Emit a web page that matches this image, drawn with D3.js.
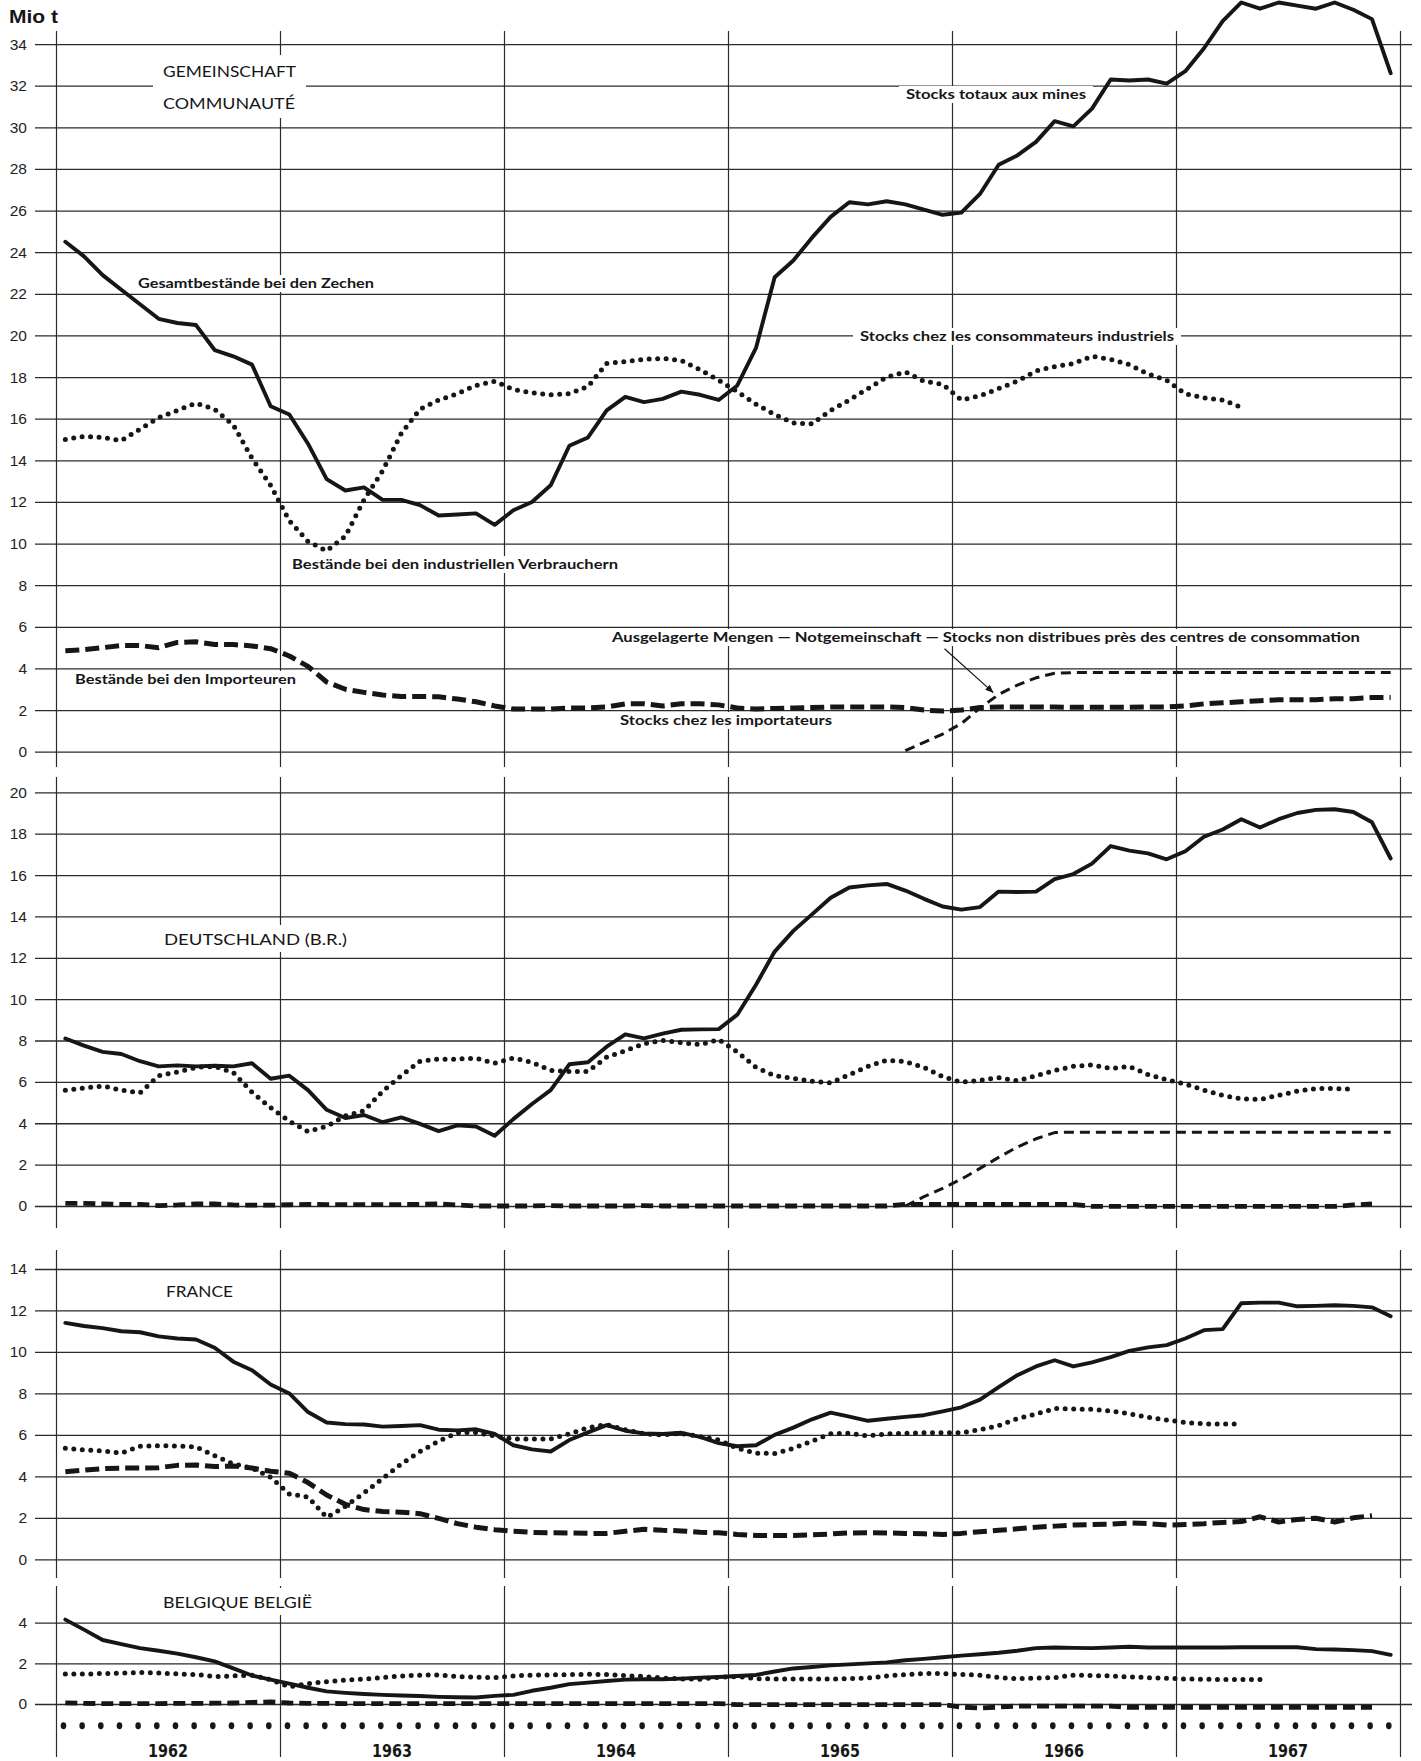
<!DOCTYPE html>
<html><head><meta charset="utf-8">
<script src="https://cdn.jsdelivr.net/npm/d3@7"></script>
<style>
html,body{margin:0;padding:0;background:#fff;}
svg{display:block;}
</style></head><body>
<svg id="c" width="1421" height="1761"></svg>
<script>
// ---------- DATA (monthly, Jan 1962 = index 0) ----------
const years = ["1962","1963","1964","1965","1966","1967"];
const yTicksEEC = [0,2,4,6,8,10,12,14,16,18,20,22,24,26,28,30,32,34];
const yTicksDE = [0,2,4,6,8,10,12,14,16,18,20];
const yTicksFR = [0,2,4,6,8,10,12,14];
const yTicksBE = [0,2,4];

// Gemeinschaft / Communauté
const eecMines = [24.5,23.8,22.9,22.2,21.5,20.8,20.6,20.5,19.3,19.0,18.6,16.6,
  16.2,14.8,13.1,12.55,12.7,12.1,12.1,11.85,11.35,11.4,11.45,10.9,
  11.6,12.0,12.8,14.7,15.1,16.4,17.05,16.8,16.95,17.3,17.15,16.9,
  17.6,19.4,22.8,23.6,24.7,25.7,26.4,26.3,26.45,26.3,26.05,25.8,
  25.9,26.8,28.2,28.65,29.3,30.3,30.05,30.9,32.3,32.25,32.3,32.1,
  32.7,33.8,35.1,36.0,35.7,36.0,35.85,35.7,36.0,35.65,35.2,32.6];
const eecConsumers = [15.0,15.15,15.1,14.95,15.5,16.05,16.4,16.75,16.45,15.7,14.1,12.8,
  11.1,10.1,9.65,10.35,12.1,13.5,15.3,16.45,16.9,17.2,17.6,17.8,
  17.4,17.25,17.15,17.2,17.55,18.65,18.75,18.85,18.9,18.8,18.35,17.85,
  17.3,16.7,16.2,15.8,15.75,16.4,16.9,17.45,18.0,18.25,17.8,17.65,
  16.9,17.1,17.45,17.8,18.3,18.5,18.65,19.0,18.85,18.6,18.15,17.85,
  17.2,17.0,16.9,16.55];
const eecImporters = [4.85,4.9,5.0,5.1,5.1,5.0,5.25,5.28,5.15,5.15,5.08,4.95,
  4.6,4.1,3.35,3.0,2.85,2.72,2.65,2.65,2.64,2.53,2.4,2.2,
  2.05,2.05,2.05,2.1,2.1,2.15,2.3,2.3,2.2,2.3,2.3,2.25,
  2.1,2.05,2.08,2.1,2.12,2.15,2.15,2.15,2.15,2.12,2.0,1.95,
  2.0,2.12,2.15,2.15,2.15,2.15,2.13,2.13,2.13,2.13,2.15,2.15,
  2.2,2.3,2.35,2.4,2.45,2.5,2.5,2.5,2.55,2.55,2.6,2.6];
const eecOutsideStart = 45; // Oct 1965
const eecOutside = [0.05,0.45,0.85,1.35,2.1,2.75,3.2,3.55,3.77,
  3.8,3.8,3.8,3.8,3.8,3.8,3.8,3.8,3.8,3.8,3.8,3.8,3.8,3.8,3.8,3.8,3.8,3.8];

// Deutschland (B.R.)
const deMines = [8.1,7.75,7.45,7.35,7.0,6.75,6.8,6.75,6.78,6.75,6.9,6.15,
  6.3,5.6,4.65,4.25,4.4,4.05,4.28,3.97,3.62,3.9,3.84,3.4,
  4.2,4.93,5.6,6.85,6.95,7.7,8.3,8.1,8.33,8.52,8.54,8.55,
  9.25,10.7,12.3,13.3,14.1,14.9,15.4,15.5,15.57,15.25,14.85,14.48,
  14.33,14.45,15.2,15.18,15.2,15.8,16.05,16.55,17.4,17.18,17.05,16.76,
  17.15,17.85,18.2,18.7,18.3,18.7,19.0,19.15,19.18,19.05,18.55,16.8];
const deConsumers = [5.6,5.7,5.8,5.6,5.47,6.3,6.48,6.7,6.75,6.45,5.5,4.75,
  4.1,3.6,3.85,4.35,4.6,5.55,6.3,7.0,7.1,7.1,7.15,6.9,
  7.15,6.95,6.55,6.5,6.5,7.2,7.5,7.85,8.0,7.9,7.8,8.05,
  7.45,6.7,6.3,6.17,6.03,5.95,6.35,6.75,7.05,6.98,6.7,6.25,
  5.98,6.08,6.2,6.05,6.3,6.55,6.75,6.82,6.65,6.75,6.35,6.1,
  5.9,5.6,5.35,5.18,5.15,5.35,5.55,5.68,5.68,5.65];
const deImporters = [0.13,0.13,0.1,0.08,0.08,0.02,0.05,0.1,0.1,0.05,0.04,0.04,
  0.06,0.08,0.07,0.07,0.07,0.07,0.07,0.08,0.1,0.05,0.0,0.0,
  0.0,0.0,0.02,0.0,0.0,0.0,0.0,0.02,0.0,0.0,0.0,0.0,
  0.0,0.0,0.0,0.0,0.0,0.0,0.0,0.0,0.0,0.08,0.08,0.08,
  0.08,0.08,0.08,0.08,0.08,0.08,0.08,-0.02,-0.02,-0.02,-0.02,-0.02,
  -0.02,-0.02,-0.02,-0.02,-0.02,-0.02,-0.02,-0.02,-0.02,0.05,0.1];
const deOutsideStart = 45;
const deOutside = [0,0.45,0.85,1.3,1.82,2.35,2.85,3.25,3.55,
  3.57,3.57,3.57,3.57,3.57,3.57,3.57,3.57,3.57,3.57,3.57,3.57,3.57,3.57,3.57,3.57,3.57,3.57];

// France
const frMines = [11.4,11.25,11.15,11.0,10.95,10.75,10.65,10.6,10.2,9.53,9.12,8.43,
  8.0,7.1,6.6,6.52,6.5,6.4,6.43,6.47,6.25,6.22,6.27,6.05,
  5.5,5.3,5.2,5.75,6.12,6.47,6.2,6.07,6.04,6.1,5.9,5.6,
  5.45,5.5,6.0,6.35,6.75,7.07,6.88,6.68,6.78,6.87,6.95,7.13,
  7.33,7.7,8.3,8.88,9.3,9.6,9.3,9.5,9.75,10.05,10.22,10.33,
  10.65,11.05,11.1,12.35,12.38,12.38,12.2,12.22,12.25,12.22,12.15,11.72];
const frConsumers = [5.35,5.28,5.22,5.12,5.45,5.48,5.46,5.42,5.0,4.6,4.4,3.95,
  3.15,3.0,2.02,2.55,3.2,3.9,4.6,5.2,5.7,6.1,6.12,5.95,
  5.8,5.8,5.8,6.05,6.35,6.5,6.25,6.05,6.0,6.07,5.92,5.75,
  5.35,5.12,5.1,5.35,5.7,6.05,6.08,5.95,6.05,6.08,6.1,6.1,
  6.1,6.25,6.45,6.78,7.0,7.27,7.25,7.23,7.15,7.02,6.85,6.72,
  6.6,6.53,6.52,6.52];
const frImporters = [4.22,4.3,4.37,4.4,4.4,4.42,4.53,4.55,4.47,4.5,4.4,4.25,
  4.15,3.7,3.1,2.65,2.4,2.3,2.27,2.2,1.97,1.72,1.55,1.43,
  1.35,1.3,1.28,1.27,1.25,1.25,1.35,1.45,1.4,1.37,1.3,1.28,
  1.2,1.15,1.15,1.15,1.18,1.22,1.27,1.28,1.27,1.25,1.23,1.2,
  1.25,1.33,1.4,1.47,1.55,1.6,1.65,1.68,1.7,1.75,1.72,1.65,
  1.68,1.72,1.78,1.82,2.05,1.8,1.92,1.98,1.8,2.0,2.1];

// Belgique / België
const beMines = [4.15,3.66,3.15,2.95,2.75,2.62,2.48,2.3,2.1,1.75,1.4,1.2,
  1.0,0.8,0.62,0.55,0.49,0.45,0.42,0.39,0.35,0.33,0.32,0.4,
  0.45,0.65,0.8,0.98,1.05,1.13,1.2,1.22,1.22,1.25,1.3,1.33,
  1.38,1.43,1.6,1.75,1.82,1.9,1.95,2.0,2.05,2.15,2.22,2.3,
  2.38,2.45,2.52,2.62,2.75,2.78,2.76,2.75,2.78,2.82,2.78,2.78,
  2.78,2.78,2.78,2.79,2.79,2.79,2.79,2.7,2.68,2.65,2.6,2.42];
const beConsumers = [1.47,1.47,1.5,1.52,1.55,1.52,1.48,1.45,1.35,1.38,1.42,1.2,
  0.85,1.0,1.1,1.18,1.22,1.3,1.38,1.42,1.43,1.35,1.32,1.3,
  1.38,1.42,1.43,1.45,1.46,1.45,1.4,1.35,1.28,1.23,1.22,1.32,
  1.35,1.25,1.23,1.23,1.23,1.23,1.25,1.28,1.38,1.45,1.5,1.5,
  1.45,1.42,1.3,1.25,1.28,1.3,1.42,1.4,1.38,1.33,1.3,1.27,
  1.23,1.22,1.2,1.2,1.2];
const beImporters = [0.06,0.03,0.02,0.02,0.02,0.02,0.03,0.03,0.04,0.05,0.08,0.1,
  0.05,0.03,0.03,0.02,0.02,0.02,0.02,0.02,0.02,0.02,0.02,0.02,
  0.02,0.02,0.02,0.02,0.02,0.02,0.02,0.02,0.02,0.02,0.02,0.02,
  -0.03,-0.03,-0.03,-0.03,-0.03,-0.03,-0.03,-0.03,-0.03,-0.03,-0.03,-0.03,
  -0.15,-0.2,-0.15,-0.1,-0.1,-0.1,-0.1,-0.1,-0.1,-0.17,-0.17,-0.17,
  -0.17,-0.17,-0.17,-0.17,-0.17,-0.17,-0.17,-0.17,-0.17,-0.17,-0.17];
const beBottomRow = [-1.07,-1.07,-1.07,-1.07,-1.07,-1.07,-1.07,-1.07,-1.07,-1.07,-1.07,-1.07,
  -1.07,-1.07,-1.07,-1.07,-1.07,-1.07,-1.07,-1.07,-1.07,-1.07,-1.07,-1.07,
  -1.07,-1.07,-1.07,-1.07,-1.07,-1.07,-1.07,-1.07,-1.07,-1.07,-1.07,-1.07,
  -1.07,-1.07,-1.07,-1.07,-1.07,-1.07,-1.07,-1.07,-1.07,-1.07,-1.07,-1.07,
  -1.07,-1.07,-1.07,-1.07,-1.07,-1.07,-1.07,-1.07,-1.07,-1.07,-1.07,-1.07,
  -1.07,-1.07,-1.07,-1.07,-1.07,-1.07,-1.07,-1.07,-1.07,-1.07,-1.07,-1.07];

// ---------- LAYOUT ----------
const W = 1421, H = 1761;
const INK = "#161616";
const svg = d3.select("#c");
svg.append("rect").attr("width", W).attr("height", H).attr("fill", "#fff");

const defs = svg.append("defs");
defs.append("marker").attr("id","arr").attr("viewBox","0 0 10 10").attr("refX",9).attr("refY",5)
  .attr("markerWidth",7).attr("markerHeight",7).attr("orient","auto-start-reverse")
  .append("path").attr("d","M0,1 L10,5 L0,9 z").attr("fill",INK);

const x = d3.scaleLinear().domain([0, 72]).range([56, 1400]);
const gridLeft = 35, gridRight = 1412;

const panels = [
  {ticks: yTicksEEC, y: d3.scaleLinear().domain([0,34]).range([751.7, 44.1]), vTop: 31, vBot: 767},
  {ticks: yTicksDE,  y: d3.scaleLinear().domain([0,20]).range([1206, 792.3]), vTop: 777, vBot: 1228},
  {ticks: yTicksFR,  y: d3.scaleLinear().domain([0,14]).range([1559.3, 1269]), vTop: 1250, vBot: 1578},
  {ticks: yTicksBE,  y: d3.scaleLinear().domain([0,4]).range([1704, 1622.7]), vTop: 1586, vBot: 1757}
];

const gGrid = svg.append("g");
const gBg = svg.append("g");
const gData = svg.append("g");
const gText = svg.append("g");

panels.forEach(p => {
  // horizontal grid + value labels
  const ay = d3.axisLeft(p.y).tickValues(p.ticks).tickFormat(d3.format("d"))
    .tickSize(-(gridRight - gridLeft)).tickPadding(8);
  const g = gGrid.append("g").attr("transform", `translate(${gridLeft},0)`).call(ay);
  g.select(".domain").remove();
  g.selectAll(".tick line").attr("stroke", "#2b2b2b").attr("stroke-width", 1.3);
  g.selectAll(".tick text").attr("fill", "#1e1e1e")
    .style("font-family", "'Liberation Sans', Arial, sans-serif").style("font-size", "15.5px");
  // vertical year lines
  const ax = d3.axisBottom(x).tickValues(d3.range(0, 73, 12)).tickSize(-(p.vBot - p.vTop)).tickFormat("");
  const gv = gGrid.append("g").attr("transform", `translate(0,${p.vBot})`).call(ax);
  gv.select(".domain").remove();
  gv.selectAll(".tick line").attr("stroke", "#2b2b2b").attr("stroke-width", 1.2);
});

// year labels
gText.selectAll("text.yr").data(years).join("text").attr("class","yr")
  .attr("x", (d,i) => x(i*12 + 6) - 20).attr("y", 1757)
  .attr("textLength", 40).attr("lengthAdjust", "spacingAndGlyphs")
  .style("font-family", "'Liberation Sans Narrow','DejaVu Sans Condensed','Liberation Sans',sans-serif")
  .style("font-weight", "bold").style("font-size", "17px").attr("fill", INK)
  .text(d => d);

// unit
gText.append("text").attr("x", 9).attr("y", 23).attr("textLength", 49).attr("lengthAdjust","spacingAndGlyphs")
  .style("font-family","'Liberation Sans',Arial,sans-serif").style("font-weight","bold").style("font-size","18px")
  .attr("fill", INK).text("Mio t");

// ---------- SERIES ----------
const styles = {
  solid:  {w: 3.9, dash: null, cap: "round"},
  dotted: {w: 5, dash: "0 8.5", cap: "round"},
  heavy:  {w: 5, dash: "14 6", cap: "butt"},
  heavyS: {w: 4.8, dash: "12 6", cap: "butt"},
  thin:   {w: 3, dash: "10 6", cap: "butt"}
};
function draw(p, values, start, st) {
  const s = styles[st];
  const line = d3.line().x((d, i) => x(start + i + 0.5)).y(d => p.y(d));
  const path = gData.append("path").datum(values).attr("d", line)
    .attr("fill", "none").attr("stroke", INK).attr("stroke-width", s.w)
    .attr("stroke-linejoin", "round").attr("stroke-linecap", s.cap);
  if (s.dash) path.attr("stroke-dasharray", s.dash);
}
const [P1, P2, P3, P4] = panels;
draw(P1, eecOutside, eecOutsideStart, "thin");
draw(P1, eecImporters, 0, "heavy");
draw(P1, eecConsumers, 0, "dotted");
draw(P1, eecMines, 0, "solid");

draw(P2, deOutside, deOutsideStart, "thin");
draw(P2, deImporters, 0, "heavyS");
draw(P2, deConsumers, 0, "dotted");
draw(P2, deMines, 0, "solid");

draw(P3, frImporters, 0, "heavy");
draw(P3, frConsumers, 0, "dotted");
draw(P3, frMines, 0, "solid");

draw(P4, beImporters, 0, "heavyS");
draw(P4, beConsumers, 0, "dotted");
draw(P4, beMines, 0, "solid");
gData.selectAll("ellipse.bd").data(beBottomRow).join("ellipse").attr("class","bd")
  .attr("cx", (d,i) => x(i + 0.4)).attr("cy", d => P4.y(d)).attr("rx", 2.8).attr("ry", 3.4).attr("fill", INK);

// annotation arrow (data coordinates of panel 1)
gData.append("line")
  .attr("x1", x(47.6)).attr("y1", P1.y(4.95)).attr("x2", x(50.2)).attr("y2", P1.y(2.85))
  .attr("stroke", INK).attr("stroke-width", 1.2).attr("marker-end", "url(#arr)");

// ---------- LABELS ----------
const seriesLabels = [
  {t:"Gesamtbestände bei den Zechen", x:138, y:288, w:236},
  {t:"Stocks totaux aux mines", x:906, y:99, w:180},
  {t:"Stocks chez les consommateurs industriels", x:860, y:341, w:314},
  {t:"Bestände bei den industriellen Verbrauchern", x:292, y:569, w:326},
  {t:"Bestände bei den Importeuren", x:75, y:684, w:221},
  {t:"Stocks chez les importateurs", x:620, y:725, w:212},
  {t:"Ausgelagerte Mengen — Notgemeinschaft — Stocks non distribues près des centres de consommation", x:612, y:642, w:748}
];
const titles = [
  {t:"GEMEINSCHAFT", x:163, y:77, w:133, grp:1},
  {t:"COMMUNAUTÉ", x:163, y:109, w:132, grp:1},
  {t:"DEUTSCHLAND (B.R.)", x:164, y:945, w:183},
  {t:"FRANCE", x:166, y:1297, w:67},
  {t:"BELGIQUE BELGIË", x:163, y:1608, w:149}
];
function bg(bb, px, py) {
  gBg.append("rect").attr("x", bb.x - px).attr("y", bb.y - py)
    .attr("width", bb.width + 2*px).attr("height", bb.height + 2*py).attr("fill", "#fff");
}
seriesLabels.forEach(d => {
  const t = gText.append("text").attr("x", d.x).attr("y", d.y)
    .attr("textLength", d.w).attr("lengthAdjust", "spacingAndGlyphs")
    .style("font-family", "Lato,'Open Sans',sans-serif").style("font-weight", "700").style("font-size", "12.5px")
    .attr("fill", INK).text(d.t);
  const bb = t.node().getBBox();
  bg({x: d.x, y: bb.y, width: d.w, height: bb.height}, 7, 1);
});
let grpBox = null;
titles.forEach(d => {
  const t = gText.append("text").attr("x", d.x).attr("y", d.y)
    .attr("textLength", d.w).attr("lengthAdjust", "spacingAndGlyphs")
    .style("font-family", "Lato,'Open Sans',sans-serif").style("font-weight", "400").style("font-size", "16px")
    .attr("fill", INK).text(d.t);
  const bb = t.node().getBBox();
  const box = {x: d.x, y: bb.y, width: d.w, height: bb.height};
  if (d.grp) {
    if (!grpBox) grpBox = {x0: box.x, y0: box.y, x1: box.x + box.width, y1: box.y + box.height};
    else {
      grpBox.x0 = Math.min(grpBox.x0, box.x); grpBox.y0 = Math.min(grpBox.y0, box.y);
      grpBox.x1 = Math.max(grpBox.x1, box.x + box.width); grpBox.y1 = Math.max(grpBox.y1, box.y + box.height);
    }
  } else bg(box, 9, 4);
});
if (grpBox) bg({x: grpBox.x0, y: grpBox.y0, width: grpBox.x1 - grpBox.x0, height: grpBox.y1 - grpBox.y0}, 10, 6);
</script>
</body></html>
